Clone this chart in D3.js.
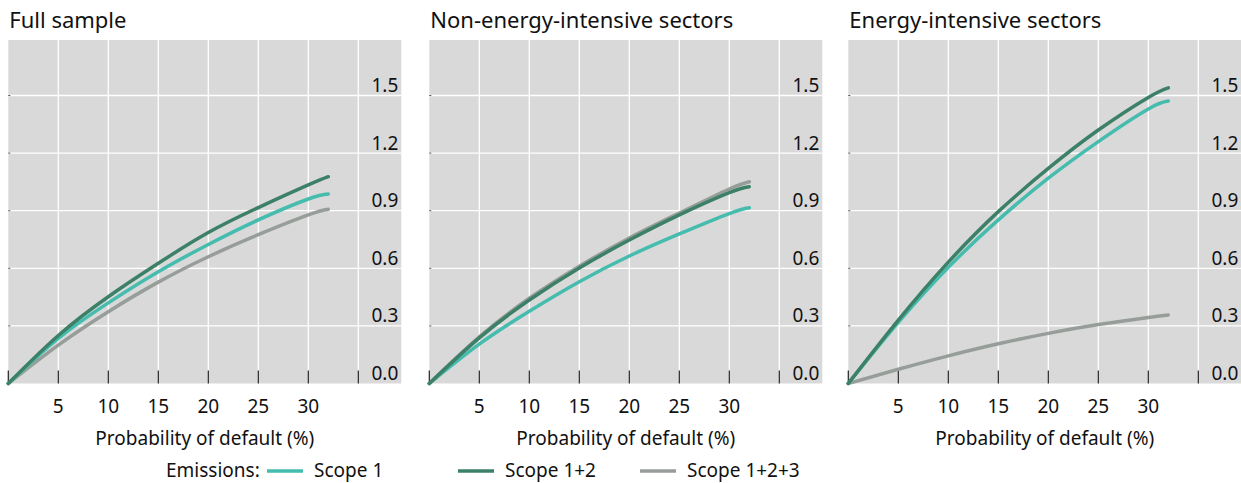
<!DOCTYPE html>
<html>
<head>
<meta charset="utf-8">
<script src="https://cdn.jsdelivr.net/npm/d3@7"></script>
<style>
  body { margin: 0; background: #fff; }
  svg { display: block; font-family: "Noto Sans", "Open Sans", sans-serif; }
</style>
</head>
<body>
<svg id="chart" width="1241" height="483"></svg>
<script>
const pd = [0, 5, 10, 15, 20, 25, 30, 32];

const panelTitles = ['Full sample', 'Non-energy-intensive sectors', 'Energy-intensive sectors'];

// values per panel
const fullScope1 = [0, 0.235, 0.42, 0.582, 0.724, 0.852, 0.961, 0.987];
const fullScope12 = [0, 0.25, 0.452, 0.626, 0.786, 0.916, 1.034, 1.077];
const fullScope123 = [0, 0.20, 0.374, 0.528, 0.66, 0.775, 0.878, 0.907];

const nonEiScope1 = [0, 0.205, 0.376, 0.53, 0.664, 0.779, 0.885, 0.915];
const nonEiScope12 = [0, 0.238, 0.435, 0.602, 0.747, 0.878, 0.994, 1.025];
const nonEiScope123 = [0, 0.243, 0.444, 0.611, 0.758, 0.888, 1.013, 1.051];

const eiScope1 = [0, 0.318, 0.605, 0.852, 1.069, 1.26, 1.43, 1.471];
const eiScope12 = [0, 0.33, 0.632, 0.895, 1.12, 1.32, 1.49, 1.54];
const eiScope123 = [0, 0.074, 0.144, 0.207, 0.261, 0.307, 0.344, 0.357];

const xTicks = [0, 5, 10, 15, 20, 25, 30, 35];
const xTickLabels = ['', '5', '10', '15', '20', '25', '30', ''];
const yTicks = [0, 0.3, 0.6, 0.9, 1.2, 1.5];

const seriesNames = ['Scope 1', 'Scope 1+2', 'Scope 1+2+3'];
const colors = ['#45bcad', '#3d8068', '#979e99'];

const panels = [
  [fullScope1, fullScope12, fullScope123],
  [nonEiScope1, nonEiScope12, nonEiScope123],
  [eiScope1, eiScope12, eiScope123]
];

const svg = d3.select('#chart');
const plotLeft = [8.3, 429.3, 848.3];
const plotTop = 40, plotBottom = 383.5, plotW = 393;

const x = d3.scaleLinear().domain([0, 39.3]).range([0, plotW]);
const y = d3.scaleLinear().domain([0, 1.789]).range([plotBottom, plotTop]);

panels.forEach((series, p) => {
  const g = svg.append('g').attr('transform', `translate(${plotLeft[p]},0)`);

  g.append('text')
    .attr('x', 1)
    .attr('y', 28)
    .attr('font-size', 22)
    .attr('fill', '#111')
    .text(panelTitles[p]);

  g.append('rect')
    .attr('x', 0).attr('y', plotTop)
    .attr('width', plotW).attr('height', plotBottom - plotTop)
    .attr('fill', '#d9d9d9');

  // grid
  g.selectAll('line.vgrid')
    .data(xTicks.slice(1))
    .enter()
    .append('line')
    .attr('x1', d => x(d)).attr('x2', d => x(d))
    .attr('y1', plotTop).attr('y2', plotBottom)
    .attr('stroke', '#fff').attr('stroke-width', 1.3);

  g.selectAll('line.hgrid')
    .data(yTicks.slice(1))
    .enter()
    .append('line')
    .attr('x1', 0).attr('x2', plotW)
    .attr('y1', d => y(d)).attr('y2', d => y(d))
    .attr('stroke', '#fff').attr('stroke-width', 1.3);

  // small left ticks
  g.selectAll('line.ltick')
    .data(yTicks.slice(1))
    .enter()
    .append('line')
    .attr('x1', 0).attr('x2', 2)
    .attr('y1', d => y(d)).attr('y2', d => y(d))
    .attr('stroke', '#555').attr('stroke-width', 1);

  // y labels on the right, inside
  g.selectAll('text.ylab')
    .data(yTicks)
    .enter()
    .append('text')
    .attr('x', plotW - 3)
    .attr('y', d => y(d) - 3.5)
    .attr('text-anchor', 'end')
    .attr('font-size', 19)
    .attr('fill', '#111')
    .text(d => d3.format('.1f')(d));

  // x axis ticks pointing up
  g.selectAll('line.xtick')
    .data(xTicks)
    .enter()
    .append('line')
    .attr('x1', d => x(d)).attr('x2', d => x(d))
    .attr('y1', plotBottom - 13).attr('y2', plotBottom)
    .attr('stroke', '#222').attr('stroke-width', 1.2);

  g.selectAll('text.xlab')
    .data(xTicks)
    .enter()
    .append('text')
    .attr('x', d => x(d))
    .attr('y', 413)
    .attr('text-anchor', 'middle')
    .attr('font-size', 19)
    .attr('fill', '#111')
    .text((d, i) => xTickLabels[i]);

  g.append('text')
    .attr('x', plotW / 2)
    .attr('y', 445)
    .attr('text-anchor', 'middle')
    .attr('font-size', 19)
    .attr('fill', '#111')
    .text('Probability of default (%)');

  const line = d3.line()
    .x((d, i) => x(pd[i]))
    .y(d => y(d))
    .curve(d3.curveNatural);

  [2, 0, 1].forEach(s => {
    g.append('path')
      .datum(series[s])
      .attr('d', line)
      .attr('fill', 'none')
      .attr('stroke', colors[s])
      .attr('stroke-width', 3.5)
      .attr('stroke-linecap', 'round');
  });
});

// legend
const legend = svg.append('g').attr('font-size', 19).attr('fill', '#111');
legend.append('text').attr('x', 166).attr('y', 477).text('Emissions:');
const legendX = [267, 458, 640];
seriesNames.forEach((name, i) => {
  legend.append('line')
    .attr('x1', legendX[i]).attr('x2', legendX[i] + 36)
    .attr('y1', 471).attr('y2', 471)
    .attr('stroke', colors[i]).attr('stroke-width', 3.5);
  legend.append('text')
    .attr('x', legendX[i] + 47)
    .attr('y', 477)
    .text(name);
});
</script>
</body>
</html>
